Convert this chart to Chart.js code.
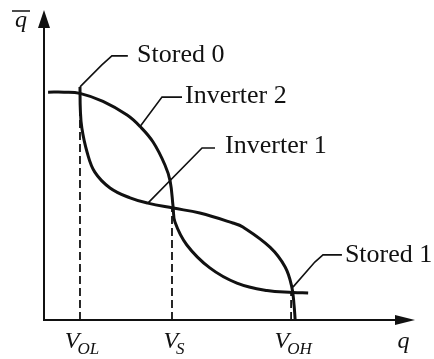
<!DOCTYPE html>
<html>
<head>
<meta charset="utf-8">
<script src="https://cdn.jsdelivr.net/npm/chart.js@4"></script>
<style>body{margin:0;background:#fff}</style>
</head>
<body>
<canvas id="chart" width="434" height="359"></canvas>
<script>
// transfer curves (q along x, q-bar along y, 0..10 units)
const inverter1X = [0.97, 0.98, 1.02, 1.16, 1.37, 1.78, 2.32, 2.80, 3.48, 4.20, 5.09, 5.36, 6.09, 6.50, 6.68, 6.74, 6.77];
const inverter1Y = [7.52, 6.77, 6.19, 5.42, 4.77, 4.26, 3.94, 3.77, 3.61, 3.45, 3.13, 3.00, 2.35, 1.71, 1.06, 0.48, 0.00];
const inverter2X = [0.11, 0.54, 0.97, 1.59, 2.24, 2.59, 2.94, 3.26, 3.40, 3.48, 3.53, 3.85, 4.47, 5.20, 6.01, 6.71, 7.12];
const inverter2Y = [7.35, 7.35, 7.31, 7.05, 6.61, 6.24, 5.74, 5.00, 4.48, 3.65, 3.16, 2.42, 1.68, 1.19, 0.95, 0.89, 0.87];

// dashed guides down to the axis
const tickValues = [0.97, 3.45, 6.66];
const tickTops = [7.31, 3.62, 0.90];
const tickMain = ['V', 'V', 'V'];
const tickSub = ['OL', 'S', 'OH'];

// callout labels and their leader lines
const calloutText = ['Stored 0', 'Inverter 2', 'Inverter 1', 'Stored 1'];
const calloutX = [2.51, 3.80, 4.88, 8.11];
const calloutY = [8.32, 7.00, 5.39, 1.87];
const leaderX = [[0.97, 1.56, 1.83, 2.26], [2.59, 3.18, 3.72], [2.80, 4.26, 4.61], [6.71, 7.30, 7.52, 8.03]];
const leaderY = [[7.52, 8.23, 8.52, 8.52], [6.24, 7.19, 7.19], [3.77, 5.55, 5.55], [1.06, 1.87, 2.10, 2.10]];

const ink = '#111';
const serif = '"Liberation Serif", "DejaVu Serif", serif';

function pts(xs, ys) {
    return xs.map((x, i) => ({x: x, y: ys[i]}));
}

let datasets = [];
datasets.push({data: pts(inverter1X, inverter1Y), borderColor: ink, borderWidth: 3, tension: 0.4});
datasets.push({data: pts(inverter2X, inverter2Y), borderColor: ink, borderWidth: 3, tension: 0.4});
tickValues.forEach((v, i) => {
    datasets.push({data: [{x: v, y: 0}, {x: v, y: tickTops[i]}], borderColor: ink, borderWidth: 1.8, borderDash: [8, 4], tension: 0});
});
leaderX.forEach((xs, i) => {
    datasets.push({data: pts(xs, leaderY[i]), borderColor: ink, borderWidth: 1.6, tension: 0});
});

const decorations = {
    id: 'decorations',
    afterDatasetsDraw(chart) {
        const ctx = chart.ctx;
        const sx = chart.scales.x, sy = chart.scales.y;
        const x0 = sx.getPixelForValue(0), y0 = sy.getPixelForValue(0);
        const xEnd = sx.getPixelForValue(10), yEnd = sy.getPixelForValue(10);
        ctx.save();
        ctx.strokeStyle = ink;
        ctx.fillStyle = ink;

        // axes with arrow heads
        ctx.lineWidth = 2;
        ctx.beginPath();
        ctx.moveTo(x0, yEnd + 10);
        ctx.lineTo(x0, y0 + 1);
        ctx.moveTo(x0 - 1, y0);
        ctx.lineTo(xEnd - 10, y0);
        ctx.stroke();
        ctx.beginPath();
        ctx.moveTo(x0, yEnd);
        ctx.lineTo(x0 - 6, yEnd + 18);
        ctx.lineTo(x0 + 6, yEnd + 18);
        ctx.closePath();
        ctx.fill();
        ctx.beginPath();
        ctx.moveTo(xEnd, y0);
        ctx.lineTo(xEnd - 20, y0 - 5);
        ctx.lineTo(xEnd - 20, y0 + 5);
        ctx.closePath();
        ctx.fill();

        // V_OL, V_S, V_OH under the axis
        ctx.textBaseline = 'alphabetic';
        ctx.textAlign = 'left';
        tickValues.forEach((v, i) => {
            const cx = sx.getPixelForValue(v);
            ctx.font = 'italic 24px ' + serif;
            const wMain = ctx.measureText(tickMain[i]).width;
            ctx.font = 'italic 17px ' + serif;
            const wSub = ctx.measureText(tickSub[i]).width;
            const left = cx - (wMain + wSub - 2) / 2 + 2;
            ctx.font = 'italic 24px ' + serif;
            ctx.fillText(tickMain[i], left, y0 + 28);
            ctx.font = 'italic 17px ' + serif;
            ctx.fillText(tickSub[i], left + wMain - 2, y0 + 34);
        });

        // axis names
        ctx.font = 'italic 24px ' + serif;
        ctx.textAlign = 'center';
        ctx.fillText('q', sx.getPixelForValue(9.69), y0 + 28);
        const qx = x0 - 23;
        ctx.fillText('q', qx, yEnd + 17);
        ctx.lineWidth = 1.5;
        ctx.beginPath();
        ctx.moveTo(qx - 9, yEnd + 1);
        ctx.lineTo(qx + 9, yEnd + 1);
        ctx.stroke();

        // callouts
        ctx.font = '26px ' + serif;
        ctx.textAlign = 'left';
        calloutText.forEach((t, i) => {
            ctx.fillText(t, sx.getPixelForValue(calloutX[i]), sy.getPixelForValue(calloutY[i]));
        });
        ctx.restore();
    }
};

new Chart('chart', {
    type: 'scatter',
    data: {datasets: datasets},
    options: {
        responsive: false,
        animation: false,
        showLine: true,
        elements: {point: {radius: 0, hoverRadius: 0}},
        layout: {padding: {left: 44, right: 19, top: 10, bottom: 39}},
        plugins: {legend: {display: false}, tooltip: {enabled: false}},
        scales: {
            x: {type: 'linear', display: false, min: 0, max: 10},
            y: {type: 'linear', display: false, min: 0, max: 10}
        }
    },
    plugins: [decorations]
});
</script>
</body>
</html>
